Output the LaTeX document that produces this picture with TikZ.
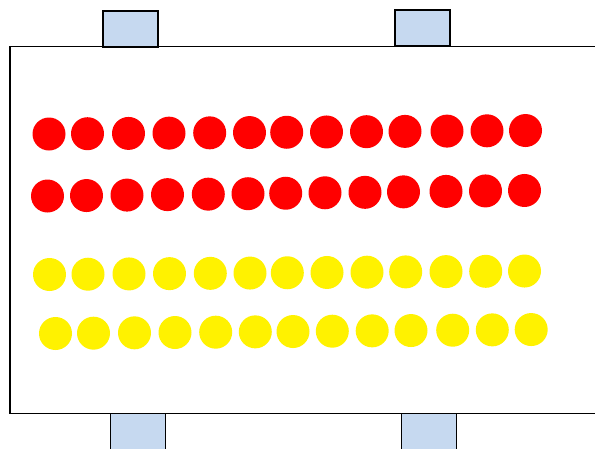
\documentclass[tikz,border=0pt]{standalone}
\usepackage{xcolor}
\usepackage{tikz}
\usetikzlibrary{positioning}
\definecolor{doorblue}{RGB}{198,217,240}

\begin{document}
\begin{tikzpicture}[
  x=1pt, y=-1pt,
  room/.style={rectangle, draw=black, line width=1.5pt, fill=white,
               minimum width=590pt, minimum height=367pt, inner sep=0pt},
  door/.style={rectangle, draw=black, line width=1.5pt, fill=doorblue,
               minimum width=55pt, minimum height=36pt, inner sep=0pt},
  seat/.style={circle, minimum size=33pt, inner sep=0pt},
  redseat/.style={seat, fill=red},
  yellowseat/.style={seat, fill=yellow}]
  \useasboundingbox (0,0) rectangle (595,448);
  \clip (0,0) rectangle (595,448);
  % hall and doors
  \node[room] (hall) at (305,230) {};
  \node[door] (doorTL) at (130.5,29) {};
  \node[door] (doorTR) at (422.3,28) {};
  \node[door, minimum height=60pt] (doorBL) at (137.8,443.5) {};
  \node[door, minimum height=60pt] (doorBR) at (429,443.5) {};
  % red rows
  \foreach \x [count=\i] in {49,87.5,128.5,169,209.7,249.5,286.7,326.5,366.5,405,447,487,525.5}
    \node[redseat] (ra-\i) at (\x,{134-0.29*(\i-1)}) {};
  \foreach \x [count=\i] in {47.5,86.5,127,167.5,208.3,248,285.7,325,365,403.5,446,485.5,524.5}
    \node[redseat] (rb-\i) at (\x,{196-0.46*(\i-1)}) {};
  % yellow rows
  \foreach \x [count=\i] in {49.5,88,129,169.5,210.3,250,287.3,327,367,405.7,446,485.7,524.5}
    \node[yellowseat] (ya-\i) at (\x,{274.5-0.29*(\i-1)}) {};
  \foreach \x [count=\i] in {55.5,93.5,134.5,175,215.7,255.3,293,332.3,372.2,411,452.7,492.3,531.2}
    \node[yellowseat] (yb-\i) at (\x,{333.5-0.33*(\i-1)}) {};
\end{tikzpicture}
\end{document}
